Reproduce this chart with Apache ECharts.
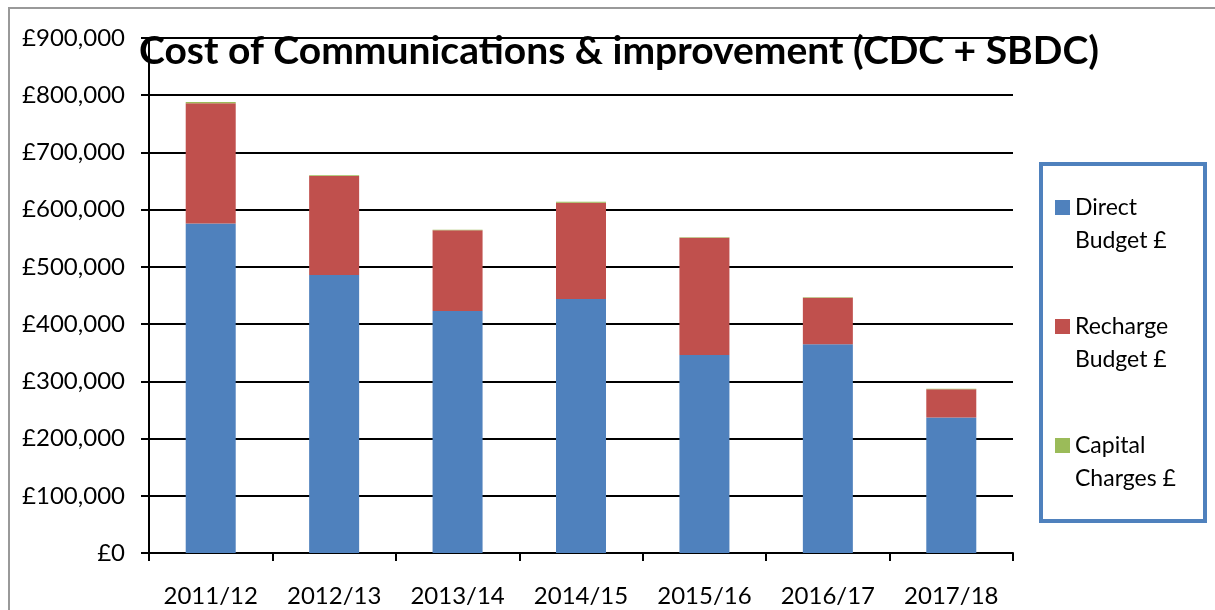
<!DOCTYPE html>
<html>
<head>
<meta charset="utf-8">
<script src="https://cdn.jsdelivr.net/npm/echarts@6/dist/echarts.min.js"></script>
<style>
  html, body { margin: 0; padding: 0; background: #fff; }
  #chart { width: 1215px; height: 610px; }
</style>
</head>
<body>
<div id="chart"></div>
<script>
// values
const years = ['2011/12', '2012/13', '2013/14', '2014/15', '2015/16', '2016/17', '2017/18'];
const directBudget = [576000, 486000, 423000, 444000, 346000, 365000, 237000];
const rechargeBudget = [210000, 173000, 141000, 168000, 205000, 81000, 49000];
const capitalCharges = [2000, 1000, 1000, 2000, 1000, 1000, 1000];
const seriesNames = ['Direct\nBudget £', 'Recharge\nBudget £', 'Capital\nCharges £'];
const colors = ['#4F81BD', '#C0504D', '#9BBB59'];

const font = 'Lato, "Open Sans", sans-serif';
const chart = echarts.init(document.getElementById('chart'));

const bar = (name, data, i) => ({
  name,
  type: 'bar',
  stack: 'cost',
  data,
  barWidth: 50,
  itemStyle: { color: colors[i] }
});

chart.setOption({
  animation: false,
  title: {
    text: 'Cost of Communications & improvement (CDC + SBDC)',
    left: 614,
    top: 27,
    textAlign: 'center',
    textStyle: { fontFamily: font, fontWeight: 'bold', fontSize: 39, color: '#000' }
  },
  grid: { left: 149, right: 202, top: 38, bottom: 57 },
  legend: {
    orient: 'vertical',
    left: 1055,
    top: 158,
    padding: 0,
    itemWidth: 15,
    itemHeight: 15,
    itemGap: 20,
    icon: 'rect',
    // blank first line so the icon sits beside the first line of the name
    formatter: name => '\n' + name,
    textStyle: { fontFamily: font, fontSize: 23, color: '#000', lineHeight: 33 },
    data: seriesNames
  },
  xAxis: {
    type: 'category',
    data: years,
    axisLine: { lineStyle: { color: '#000', width: 2 } },
    axisTick: { show: true, length: 8, lineStyle: { color: '#000', width: 2 } },
    axisLabel: { fontFamily: font, fontSize: 24, color: '#000', margin: 31 }
  },
  yAxis: {
    type: 'value',
    min: 0,
    max: 900000,
    interval: 100000,
    axisLine: { show: true, lineStyle: { color: '#000', width: 2 } },
    axisTick: { show: true, length: 8, lineStyle: { color: '#000', width: 2 } },
    splitLine: { lineStyle: { color: '#000', width: 2 } },
    axisLabel: {
      fontFamily: font, fontSize: 24, color: '#000', margin: 24,
      formatter: v => '£' + v.toLocaleString('en-GB')
    }
  },
  series: [
    bar(seriesNames[0], directBudget, 0),
    bar(seriesNames[1], rechargeBudget, 1),
    bar(seriesNames[2], capitalCharges, 2)
  ],
  graphic: [
    { type: 'rect', shape: { x: 9, y: 8, width: 1230, height: 700 }, style: { fill: null, stroke: '#999', lineWidth: 2 }, silent: true },
    { type: 'rect', shape: { x: 1041, y: 164, width: 164, height: 357 }, style: { fill: null, stroke: '#4F81BD', lineWidth: 4 }, silent: true }
  ]
});
</script>
</body>
</html>
